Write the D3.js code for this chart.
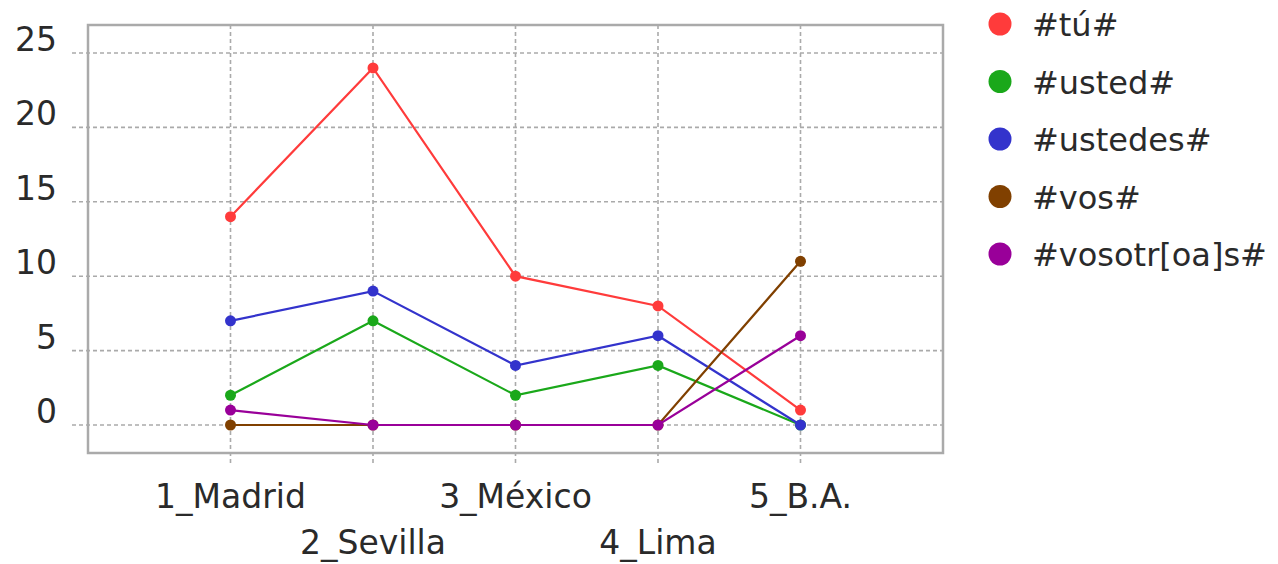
<!DOCTYPE html>
<html>
<head>
<meta charset="utf-8">
<script src="https://cdn.jsdelivr.net/npm/d3@7"></script>
<style>
  body { margin: 0; background: #fff; }
  text { font-family: "DejaVu Sans", Verdana, sans-serif; fill: #2a2a2a; }
</style>
</head>
<body>
<svg width="1278" height="564"></svg>
<script>
// data
var cities = ["1_Madrid", "2_Sevilla", "3_México", "4_Lima", "5_B.A."];
var seriesNames = ["#tú#", "#usted#", "#ustedes#", "#vos#", "#vosotr[oa]s#"];
var seriesColors = ["#ff3b3b", "#1aa81a", "#3333cc", "#804000", "#990099"];
var tu = [14, 24, 10, 8, 1];
var usted = [2, 7, 2, 4, 0];
var ustedes = [7, 9, 4, 6, 0];
var vos = [0, 0, 0, 0, 11];
var vosotros = [1, 0, 0, 0, 6];
var yTicks = [0, 5, 10, 15, 20, 25];

var allSeries = [tu, usted, ustedes, vos, vosotros];

var svg = d3.select("svg"),
    frame = {left: 88, right: 943, top: 25, bottom: 453};

var x = d3.scalePoint()
    .domain(cities)
    .range([frame.left, frame.right])
    .padding(1);

var y = d3.scaleLinear()
    .domain([0, 25])
    .range([425, 53]);

var grid = svg.append("g")
    .attr("stroke", "#aaa")
    .attr("stroke-width", 1.6)
    .attr("stroke-dasharray", "4,3");

// horizontal grid
grid.selectAll(".hg")
  .data(yTicks)
  .enter().append("line")
    .attr("x1", frame.left - 16)
    .attr("x2", frame.right)
    .attr("y1", function(d) { return y(d); })
    .attr("y2", function(d) { return y(d); });

// vertical grid
grid.selectAll(".vg")
  .data(cities)
  .enter().append("line")
    .attr("x1", function(d) { return x(d); })
    .attr("x2", function(d) { return x(d); })
    .attr("y1", frame.top)
    .attr("y2", frame.bottom + 11);

// frame
svg.append("rect")
    .attr("x", frame.left)
    .attr("y", frame.top)
    .attr("width", frame.right - frame.left)
    .attr("height", frame.bottom - frame.top)
    .attr("fill", "none")
    .attr("stroke", "#aaa")
    .attr("stroke-width", 2.5);

// y labels
svg.selectAll(".ylab")
  .data(yTicks)
  .enter().append("text")
    .attr("x", 57)
    .attr("y", function(d) { return y(d) - 2; })
    .attr("text-anchor", "end")
    .style("font-size", "33px")
    .text(function(d) { return d; });

// x labels, staggered
svg.selectAll(".xlab")
  .data(cities)
  .enter().append("text")
    .attr("x", function(d) { return x(d); })
    .attr("y", function(d, i) { return i % 2 === 0 ? 508 : 554; })
    .attr("text-anchor", "middle")
    .style("font-size", "33px")
    .text(function(d) { return d; });

var line = d3.line()
    .x(function(d, i) { return x(cities[i]); })
    .y(function(d) { return y(d); });

allSeries.forEach(function(s, k) {
  var g = svg.append("g");
  g.append("path")
      .datum(s)
      .attr("fill", "none")
      .attr("stroke", seriesColors[k])
      .attr("stroke-width", 2.2)
      .attr("d", line);
  g.selectAll("circle")
    .data(s)
    .enter().append("circle")
      .attr("cx", function(d, i) { return x(cities[i]); })
      .attr("cy", function(d) { return y(d); })
      .attr("r", 5.5)
      .attr("fill", seriesColors[k]);
});

// legend
var leg = svg.selectAll(".leg")
  .data(seriesNames)
  .enter().append("g")
    .attr("transform", function(d, i) { return "translate(1000," + (24 + i * 57.5) + ")"; });

leg.append("circle")
    .attr("r", 11.5)
    .attr("fill", function(d, i) { return seriesColors[i]; });

leg.append("text")
    .attr("x", 32)
    .attr("y", 12)
    .style("font-size", "32px")
    .text(function(d) { return d; });
</script>
</body>
</html>
